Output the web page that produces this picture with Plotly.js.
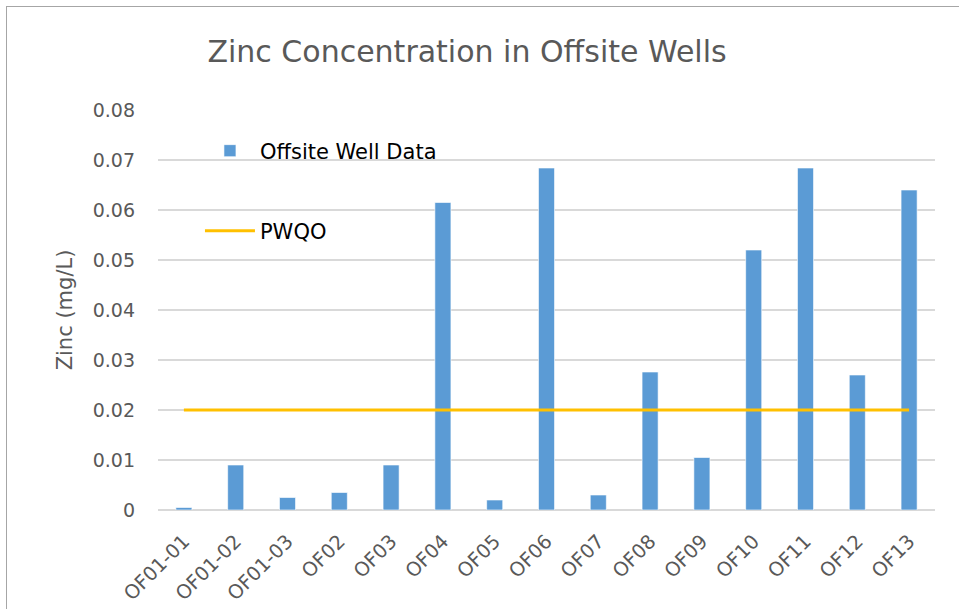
<!DOCTYPE html>
<html>
<head>
<meta charset="utf-8">
<script src="https://cdn.plot.ly/plotly-3.0.1.min.js"></script>
<style>
  html, body { margin: 0; padding: 0; background: #fff; }
  #wrap { position: relative; width: 959px; height: 609px; }
  #chart { width: 959px; height: 609px; }
  #frame { position: absolute; left: 6px; top: 6px; width: 953px; height: 603px;
           border-left: 1.5px solid #A6A6A6; border-top: 1.5px solid #A6A6A6;
           box-sizing: border-box; pointer-events: none; }
</style>
</head>
<body>
<div id="wrap">
  <div id="chart"></div>
  <div id="frame"></div>
</div>
<script>
const wells = ["OF01-01","OF01-02","OF01-03","OF02","OF03","OF04","OF05","OF06","OF07","OF08","OF09","OF10","OF11","OF12","OF13"];
const zinc = [0.0005,0.009,0.0025,0.0035,0.009,0.0615,0.002,0.0684,0.003,0.0276,0.0105,0.052,0.0684,0.027,0.064];
const pwqo = [0.02,0.02,0.02,0.02,0.02,0.02,0.02,0.02,0.02,0.02,0.02,0.02,0.02,0.02,0.02];
const yTicks = [0,0.01,0.02,0.03,0.04,0.05,0.06,0.07,0.08];
const yTickText = ["0","0.01","0.02","0.03","0.04","0.05","0.06","0.07","0.08"];

const FONT = "'DejaVu Sans', 'Open Sans', sans-serif";

const traces = [
  {
    type: "bar", name: "Offsite Well Data", x: wells, y: zinc,
    marker: { color: "#5B9BD5", line: { color: "rgba(255,255,255,0.6)", width: 1 } },
    legend: "legend", hoverinfo: "x+y"
  },
  {
    type: "scatter", mode: "lines", name: "PWQO", x: wells, y: pwqo,
    line: { color: "#FFC000", width: 3 },
    legend: "legend2"
  }
];

const layout = {
  width: 959, height: 609,
  margin: { l: 158, r: 24, t: 110, b: 99 },
  paper_bgcolor: "#ffffff", plot_bgcolor: "#ffffff",
  font: { family: FONT, color: "#595959", size: 19 },
  title: { text: "Zinc Concentration in Offsite Wells", font: { family: FONT, size: 30, color: "#595959" },
           x: 0.487, xanchor: "center", xref: "container", y: 0.915, yanchor: "middle", yref: "container" },
  bargap: 0.69,
  showlegend: true,
  xaxis: {
    type: "category", tickangle: -45, showgrid: false, showline: false, zeroline: false,
    ticks: "", ticklabelstandoff: 15, tickfont: { family: FONT, size: 19.5, color: "#595959" }, automargin: false
  },
  yaxis: {
    range: [0, 0.08], tickvals: yTicks, ticktext: yTickText, showgrid: true,
    gridcolor: "#D9D9D9", gridwidth: 1.5, zeroline: true, zerolinecolor: "#D9D9D9", zerolinewidth: 1.5,
    showline: false, ticks: "", ticklabelstandoff: 22,
    tickfont: { family: FONT, size: 19, color: "#595959" },
    title: { text: "Zinc (mg/L)", font: { family: FONT, size: 21, color: "#595959" }, standoff: 14 },
    automargin: false
  },
  legend: {
    x: 0.054, y: 0.8975, xanchor: "left", yanchor: "middle", bgcolor: "rgba(0,0,0,0)",
    font: { family: FONT, size: 21, color: "#000000" }, itemwidth: 50
  },
  legend2: {
    x: 0.054, y: 0.6975, xanchor: "left", yanchor: "middle", bgcolor: "rgba(0,0,0,0)",
    font: { family: FONT, size: 21, color: "#000000" }, itemwidth: 50
  }
};

Plotly.newPlot("chart", traces, layout, { displayModeBar: false, staticPlot: true });
</script>
</body>
</html>
